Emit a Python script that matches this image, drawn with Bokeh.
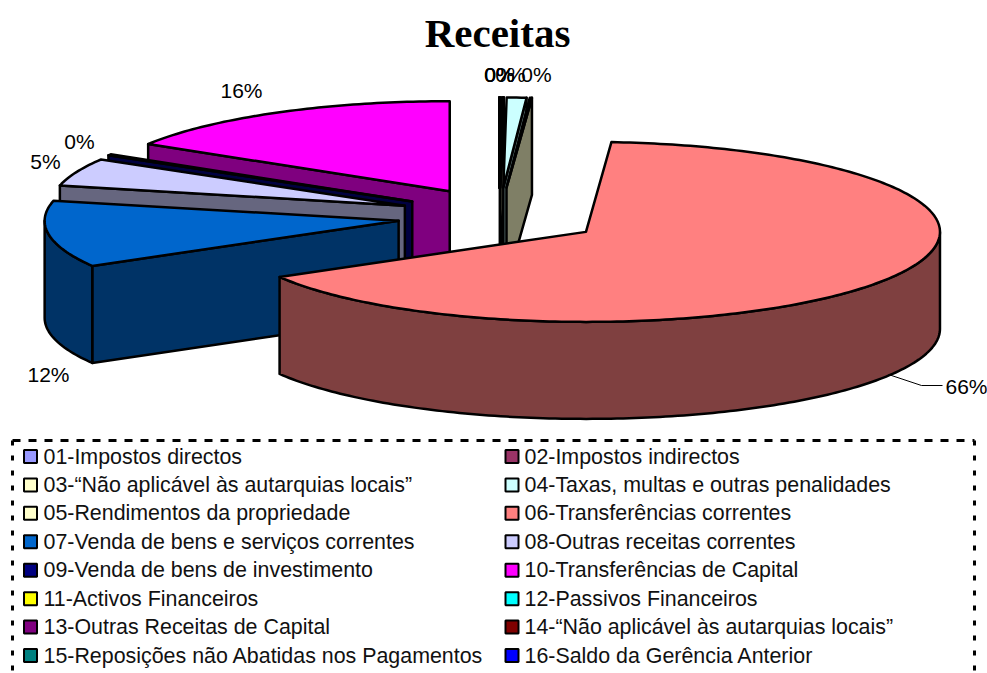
import math
from bokeh.plotting import figure
from bokeh.models import Range1d
from bokeh.core.properties import value
from bokeh.embed import file_html
from bokeh.resources import INLINE

categories = ["01-Impostos directos", "02-Impostos indirectos",
              "03-“Não aplicável às autarquias locais”", "04-Taxas, multas e outras penalidades",
              "05-Rendimentos da propriedade", "06-Transferências correntes",
              "07-Venda de bens e serviços correntes", "08-Outras receitas correntes",
              "09-Venda de bens de investimento", "10-Transferências de Capital",
              "11-Activos Financeiros", "12-Passivos Financeiros",
              "13-Outras Receitas de Capital", "14-“Não aplicável às autarquias locais”",
              "15-Reposições não Abatidas nos Pagamentos", "16-Saldo da Gerência Anterior"]
shares = [0.10, 0.05, 0.0, 0.90, 0.10, 65.8, 12.0, 5.0, 0.2, 16.3, 0, 0, 0, 0, 0, 0]
colors = ["#9999FF", "#993366", "#FFFFCC", "#CCFFFF", "#FFFFCC", "#FF8080", "#0066CC", "#CCCCFF",
          "#000080", "#FF00FF", "#FFFF00", "#00FFFF", "#800080", "#800000", "#008080", "#0000FF"]
pct_labels = ["0%", "0%", "0%", "0%", "0%", "66%", "12%", "5%", "0%", "16%"]

# geometry of the projected pie, in page pixels
CX, CY, RX, RY, EX, EY, DEPTH = 499, 216, 354, 90, 102, 29, 97
total = sum(shares)
angles = [0.0]
for s in shares:
    angles.append(angles[-1] + s / total * 360)


def wall_color(c):
    r, g, b = (int(c[i:i + 2], 16) // 2 for i in (1, 3, 5))
    return f"#{r:02x}{g:02x}{b:02x}"


xs, ys, fills = [], [], []


def add(px, py, col):
    xs.append(px)
    ys.append(py)
    fills.append(col)


def slice_polys(i):
    a0, a1 = angles[i], angles[i + 1]
    mid = math.radians((a0 + a1) / 2)
    ax = CX + EX * math.sin(mid)
    ay = CY - EY * math.cos(mid)

    def rim(a):
        t = math.radians(a)
        return ax + RX * math.sin(t), ay - RY * math.cos(t)

    dark = wall_color(colors[i])
    # radial walls that face the viewer
    if math.sin(math.radians(a0)) < -1e-6:
        x, y = rim(a0)
        add([ax, x, x, ax], [ay, y, y + DEPTH, ay + DEPTH], dark)
    if math.sin(math.radians(a1)) > 1e-6:
        x, y = rim(a1)
        add([ax, x, x, ax], [ay, y, y + DEPTH, ay + DEPTH], dark)
    # outer wall on the front half
    lo, hi = max(a0, 90), min(a1, 270)
    if hi > lo:
        n = max(2, int(hi - lo) + 1)
        pts = [rim(lo + (hi - lo) * j / n) for j in range(n + 1)]
        add([p[0] for p in pts] + [p[0] for p in reversed(pts)],
            [p[1] for p in pts] + [p[1] + DEPTH for p in reversed(pts)], dark)
    # top face
    n = max(2, int(a1 - a0) + 1)
    pts = [rim(a0 + (a1 - a0) * j / n) for j in range(n + 1)]
    add([ax] + [p[0] for p in pts], [ay] + [p[1] for p in pts], colors[i])


for i in [9, 8, 7, 6, 0, 1, 2, 3, 4, 10, 11, 12, 13, 14, 15, 5]:
    slice_polys(i)

p = figure(width=987, height=673, x_range=Range1d(0, 987), y_range=Range1d(673, 0),
           output_backend="svg", toolbar_location=None, min_border=0,
           outline_line_color=None, background_fill_color="white", border_fill_color="white")
p.axis.visible = False
p.grid.visible = False

p.patches(xs, ys, fill_color=fills, line_color="black", line_width=2.5, line_join="round")

SANS = value("Liberation Sans")
p.text([497], [32], text=["Receitas"], text_font=value("Liberation Serif"), text_font_style="bold",
       text_font_size="41px", text_align="center", text_baseline="middle", text_color="black")

lab_x = [499, 499, 499, 510, 536, 966, 48, 45, 79, 241]
lab_y = [74, 74, 74, 74, 74, 386, 374, 161, 141, 90]
p.text(lab_x, lab_y, text=pct_labels, text_font=SANS, text_font_size="21px",
       text_align="center", text_baseline="middle", text_color="black")
p.line([888, 921, 942], [374, 385, 385], line_color="black", line_width=1)

# legend
row_y = [456 + 28.43 * r for r in range(8)]
sw_x, sw_y, sw_c, tx, ty, tt = [], [], [], [], [], []
for i, cat in enumerate(categories):
    col, row = i % 2, i // 2
    sw_x.append((30, 511.5)[col])
    sw_y.append(row_y[row])
    sw_c.append(colors[i])
    tx.append((43, 524)[col])
    ty.append(row_y[row])
    tt.append(cat)
p.rect(sw_x, sw_y, width=13, height=13, fill_color=sw_c, line_color="black", line_width=2)
p.text(tx, ty, text=tt, text_font=SANS, text_font_size="21.4px", text_align="left",
       text_baseline="middle", text_color="#111111")

p.line([12, 974], [440, 440], line_color="black", line_width=3, line_dash="8 8")
p.line([12, 12], [440, 673], line_color="black", line_width=3, line_dash="5 10")
p.line([974, 974], [440, 673], line_color="black", line_width=3, line_dash="5 10")

open("out.html", "w").write(file_html(p, INLINE))
